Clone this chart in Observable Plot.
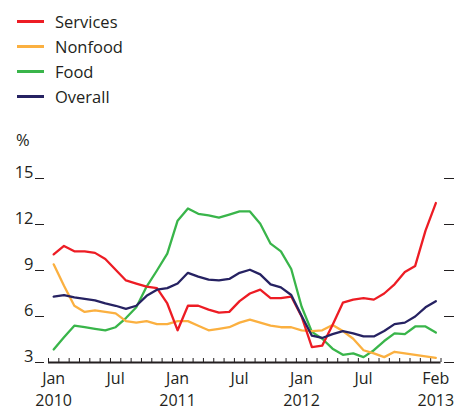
<!DOCTYPE html>
<html><head><meta charset="utf-8">
<script src="https://cdn.jsdelivr.net/npm/d3@7"></script>
<script src="https://cdn.jsdelivr.net/npm/@observablehq/plot@0.6"></script>
<style>
body{margin:0;background:#fff;}
#wrap{position:relative;width:455px;height:412px;font-family:"Open Sans",sans-serif;color:#231f20;}
#legend{position:absolute;left:17px;top:9px;font-size:16.5px;line-height:25px;}
.item{display:flex;align-items:center;height:25px;}
.sw{width:27px;height:2.5px;margin-right:11px;}
#unit{position:absolute;left:16px;top:128px;font-size:16.5px;}
</style></head>
<body><div id="wrap"><div id="legend"></div><div id="unit">%</div></div>
<script>
const months = ["2010-01","2010-02","2010-03","2010-04","2010-05","2010-06","2010-07","2010-08","2010-09","2010-10","2010-11","2010-12",
"2011-01","2011-02","2011-03","2011-04","2011-05","2011-06","2011-07","2011-08","2011-09","2011-10","2011-11","2011-12",
"2012-01","2012-02","2012-03","2012-04","2012-05","2012-06","2012-07","2012-08","2012-09","2012-10","2012-11","2012-12",
"2013-01","2013-02"];
const services = [10.05,10.6,10.25,10.25,10.15,9.75,9.05,8.35,8.15,7.95,7.85,6.85,
5.1,6.7,6.7,6.45,6.25,6.3,7.0,7.5,7.75,7.2,7.2,7.3,
6.0,4.0,4.1,5.45,6.9,7.1,7.2,7.1,7.5,8.1,8.9,9.3,11.6,13.4];
const nonfood = [9.4,8.0,6.7,6.3,6.4,6.3,6.2,5.7,5.6,5.7,5.5,5.5,
5.7,5.7,5.4,5.1,5.2,5.3,5.6,5.8,5.6,5.4,5.3,5.3,
5.1,5.05,5.1,5.45,5.05,4.55,3.8,3.6,3.35,3.7,3.6,3.5,3.4,3.3];
const food = [3.85,4.65,5.4,5.3,5.2,5.1,5.3,5.9,6.6,7.95,9.0,10.1,
12.25,13.05,12.7,12.6,12.45,12.65,12.85,12.85,12.05,10.75,10.25,9.1,
6.65,5.0,4.55,3.9,3.5,3.6,3.35,3.8,4.4,4.9,4.85,5.35,5.35,4.95];
const overall = [7.3,7.4,7.25,7.15,7.05,6.85,6.7,6.5,6.7,7.35,7.75,7.85,
8.15,8.85,8.6,8.4,8.35,8.45,8.85,9.05,8.75,8.1,7.9,7.4,
6.05,4.75,4.6,4.85,5.05,4.9,4.7,4.7,5.05,5.5,5.6,6.0,6.6,7.0];
const seriesNames = ["Services","Nonfood","Food","Overall"];
const seriesColors = ["#ed1c24","#fbb040","#39b54a","#262262"];
const yTicks = [3,6,9,12,15];
const xLabelIdx = [0,6,12,18,24,30,37];
const xLabelText = ["Jan\n2010","Jul","Jan\n2011","Jul","Jan\n2012","Jul","Feb\n2013"];

const seriesValues = [services, nonfood, food, overall];
const drawOrder = ["Food","Nonfood","Services","Overall"];
const rows = [];
for (const name of drawOrder) {
  const vals = seriesValues[seriesNames.indexOf(name)];
  vals.forEach((v, i) => rows.push({i, month: months[i], value: v, series: name}));
}
const edges = d3.range(months.length + 1).map(k => k - 0.5);
const ink = "#231f20";

const chart = Plot.plot({
  width: 455, height: 412,
  marginLeft: 48, marginRight: 14.5, marginTop: 178, marginBottom: 50,
  x: {domain: [-0.5, months.length - 0.5]},
  y: {domain: [yTicks[0], yTicks[yTicks.length - 1]]},
  color: {domain: seriesNames, range: seriesColors},
  style: {fontFamily: '"Open Sans", sans-serif', fontSize: "15px", color: ink, background: "transparent"},
  marks: [
    Plot.axisY({ticks: yTicks, tickSize: 9, dx: -4, fill: "none", label: null, stroke: ink}),
    Plot.axisY({ticks: yTicks, tickSize: 0, tickPadding: 15, dy: -6, label: null, fill: ink, fontSize: 16.5}),
    Plot.axisY({anchor: "right", ticks: yTicks, tickSize: 10, dx: 2.5, fill: "none", label: null, stroke: ink}),
    Plot.axisX({ticks: edges, tickSize: 4, dy: -4, fill: "none", label: null, stroke: ink}),
    Plot.axisX({ticks: xLabelIdx, tickSize: 0, tickPadding: 6, lineHeight: 1.375,
      tickFormat: i => xLabelText[xLabelIdx.indexOf(i)], label: null, fill: ink, fontSize: 16}),
    Plot.ruleY([yTicks[0]], {stroke: ink, strokeWidth: 2.2}),
    Plot.line(rows, {x: "i", y: "value", z: "series", stroke: "series", strokeWidth: 2.3, strokeLinejoin: "round"})
  ]
});
const wrap = document.getElementById("wrap");
chart.style.position = "absolute";
chart.style.left = "0"; chart.style.top = "0";
wrap.insertBefore(chart, wrap.firstChild);

const legend = document.getElementById("legend");
seriesNames.forEach((n, k) => {
  const it = document.createElement("div"); it.className = "item";
  const sw = document.createElement("span"); sw.className = "sw"; sw.style.background = seriesColors[k];
  const t = document.createElement("span"); t.textContent = n;
  it.appendChild(sw); it.appendChild(t); legend.appendChild(it);
});
</script>
</body></html>
